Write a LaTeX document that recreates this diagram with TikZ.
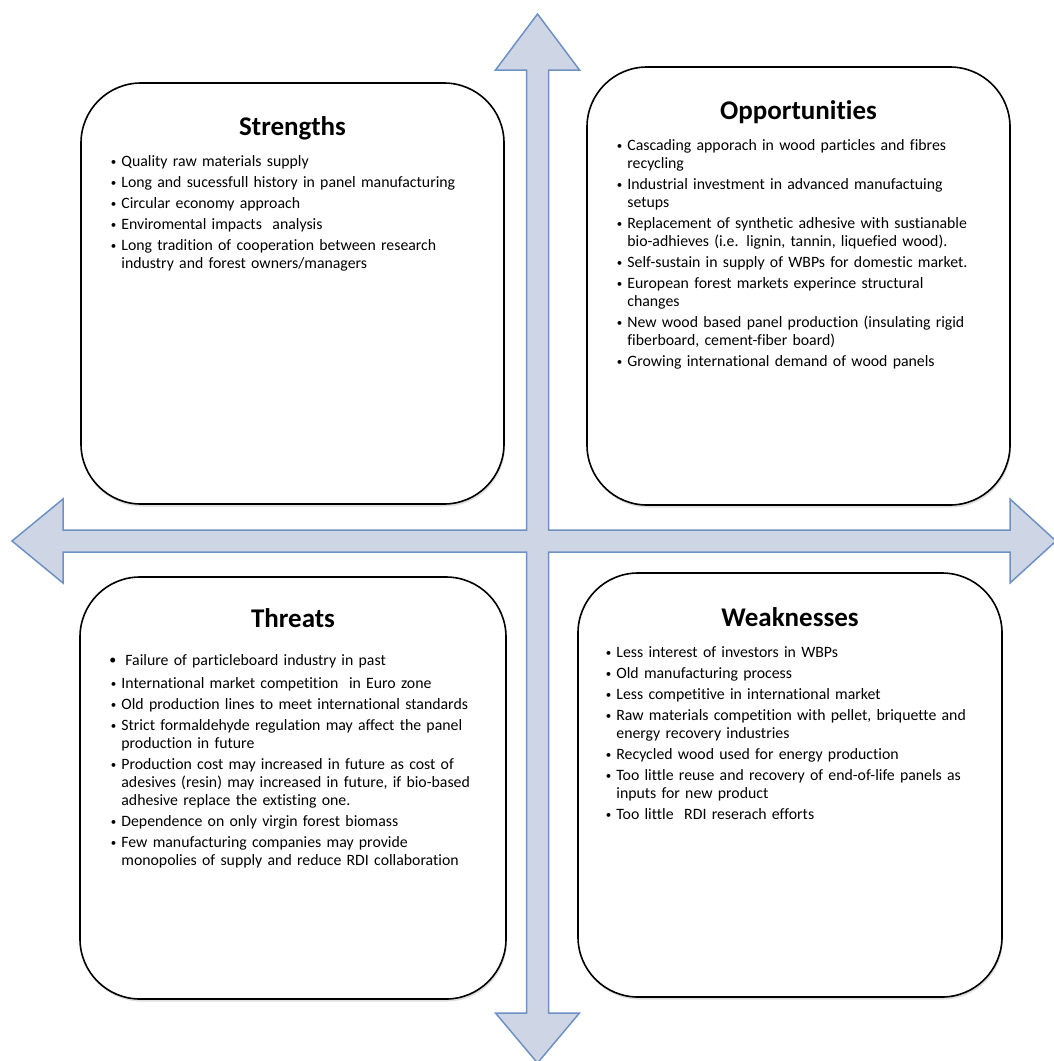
\documentclass[tikz,border=0pt]{standalone}
\usepackage{fontspec}
\setmainfont[Ligatures=NoCommon]{Carlito}
\usepackage{enumitem}
\usetikzlibrary{positioning,shadows}
\setlist[itemize]{label={\raisebox{1pt}{\fontsize{11}{11}\selectfont\textbullet}},leftmargin=13pt,labelsep=5pt,itemsep=3pt,parsep=0pt,topsep=0pt,partopsep=0pt}
\definecolor{crossfill}{RGB}{206,214,230}
\definecolor{crossline}{RGB}{110,145,196}

\begin{document}
\begin{tikzpicture}[x=1pt,y=-1pt,
    panel/.style={draw=black,line width=1.6pt,fill=white,rounded corners=60pt,
      drop shadow={opacity=.25,shadow xshift=1pt,shadow yshift=-2.5pt}},
    heading/.style={font=\fontsize{27}{30}\selectfont\bfseries,inner sep=0pt},
    points/.style={font=\fontsize{15.8}{18}\selectfont,text width=420pt,inner sep=0pt,align=left}]
  \useasboundingbox (0,0) rectangle (1053,1061);
  \filldraw[fill=crossfill,draw=crossline,line width=1.5pt]
    (537.5,14) -- (579.5,70) -- (548.5,70) -- (548.5,530) -- (1010,530) -- (1010,499)
    -- (1056,541) -- (1010,583) -- (1010,552) -- (548.5,552) -- (548.5,1013) -- (579.5,1013)
    -- (537.5,1063) -- (495.5,1013) -- (526.5,1013) -- (526.5,552) -- (63,552) -- (63,583)
    -- (12,541) -- (63,499) -- (63,530) -- (526.5,530) -- (526.5,70) -- (495.5,70) -- cycle;

  \node[panel,minimum width=423pt,minimum height=421pt] (str) at (292.5,293.5) {};
  \node[panel,minimum width=423pt,minimum height=438pt] (opp) at (798.5,286) {};
  \node[panel,minimum width=426pt,minimum height=422pt] (thr) at (293,788) {};
  \node[panel,minimum width=424pt,minimum height=424pt] (wea) at (790,785) {};

  \node[heading,below=34pt of str.north] (str-t) {Strengths};
  \node[heading,below=34pt of opp.north] (opp-t) {Opportunities};
  \node[heading,below=32pt of thr.north] (thr-t) {Threats};
  \node[heading,below=35pt of wea.north] (wea-t) {Weaknesses};

  \node[points,below right=66pt and 28pt of str.north west] (str-l) {\begin{itemize}
    \item Quality raw materials supply
    \item Long and sucessfull history in panel manufacturing
    \item Circular economy approach
    \item Enviromental impacts\ \ analysis
    \item Long tradition of cooperation between research\\industry and forest owners/managers
  \end{itemize}};
  \node[points,below right=66pt and 28pt of opp.north west] (opp-l) {\begin{itemize}
    \item Cascading apporach in wood particles and fibres\\recycling
    \item Industrial investment in advanced manufactuing\\setups
    \item Replacement of synthetic adhesive with sustianable\\bio-adhieves (i.e. lignin, tannin, liquefied wood).
    \item Self-sustain in supply of WBPs for domestic market.
    \item European forest markets experince structural\\changes
    \item New wood based panel production (insulating rigid\\fiberboard, cement-fiber board)
    \item Growing international demand of wood panels
  \end{itemize}};
  \node[points,below right=71pt and 29pt of thr.north west] (thr-l) {\begin{itemize}
    \item[\raisebox{0.5pt}{\fontsize{14}{14}\selectfont\textbullet}] \hspace*{4pt}Failure of particleboard industry in past\vspace{2pt}
    \item International market competition\ \ in Euro zone
    \item Old production lines to meet international standards
    \item Strict formaldehyde regulation may affect the panel\\production in future
    \item Production cost may increased in future as cost of\\adesives (resin) may increased in future, if bio-based\\adhesive replace the extisting one.
    \item Dependence on only virgin forest biomass
    \item Few manufacturing companies may provide\\monopolies of supply and reduce RDI collaboration
  \end{itemize}};
  \node[points,below right=67pt and 26pt of wea.north west] (wea-l) {\begin{itemize}
    \item Less interest of investors in WBPs
    \item Old manufacturing process
    \item Less competitive in international market
    \item Raw materials competition with pellet, briquette and\\energy recovery industries
    \item Recycled wood used for energy production
    \item Too little reuse and recovery of end-of-life panels as\\inputs for new product
    \item Too little\ \ RDI reserach efforts
  \end{itemize}};
\end{tikzpicture}
\end{document}
